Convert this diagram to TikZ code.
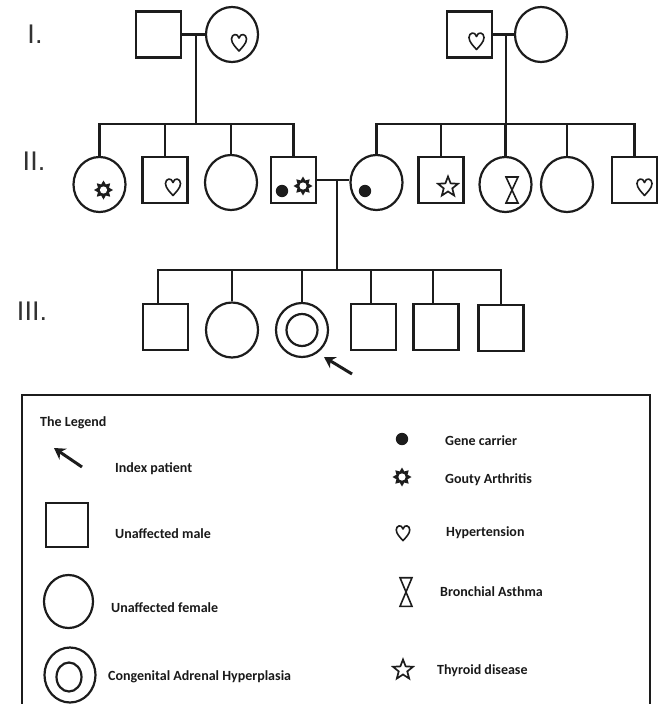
\documentclass[tikz,border=0pt]{standalone}
\usepackage{fontspec}
\setmainfont{Carlito}
\newfontfamily\labfont{Liberation Sans}
\usetikzlibrary{shapes.geometric,arrows.meta,calc}
\definecolor{inkc}{RGB}{28,28,28}
\definecolor{labc}{RGB}{50,50,50}
\definecolor{txtc}{RGB}{25,25,25}
\begin{document}
\begin{tikzpicture}[x=1pt,y=-1pt,
  ink/.style={draw=inkc, line width=2.2pt},
  male/.style={rectangle, draw=inkc, line width=2.2pt, minimum width=45pt, minimum height=46pt, inner sep=0pt},
  female/.style={ellipse, draw=inkc, line width=2.2pt, minimum width=52pt, minimum height=55pt, inner sep=0pt},
  gen/.style={font=\labfont\fontsize{27}{29}\selectfont, text=labc, inner sep=0pt},
  lg/.style={anchor=west, font=\bfseries\fontsize{14}{16}\selectfont, text=txtc, inner sep=0pt},
  heart/.pic={\draw[draw=inkc, line width=1.6pt, line join=round]
     (0,8.5) .. controls (-3,5) and (-7.5,1) .. (-7.5,-3.5) .. controls (-7.5,-8.5) and (-1.5,-10) .. (0,-4.5)
     .. controls (1.5,-10) and (7.5,-8.5) .. (7.5,-3.5) .. controls (7.5,1) and (3,5) .. (0,8.5) -- cycle;},
  gout/.pic={\fill[inkc] (0:9.5) -- (22.5:6) -- (45:9.5) -- (67.5:6) -- (90:9.5) -- (112.5:6) -- (135:9.5) -- (157.5:6)
     -- (180:9.5) -- (202.5:6) -- (225:9.5) -- (247.5:6) -- (270:9.5) -- (292.5:6) -- (315:9.5) -- (337.5:6) -- cycle;
     \fill[white] (0,0) circle (3.6);},
  hglass/.pic={\draw[draw=inkc, line width=1.6pt, line join=miter] (-6,-13) -- (6,-13) -- (-6,13) -- (6,13) -- cycle;},
  tstar/.pic={\draw[draw=inkc, line width=1.7pt, line join=miter] (-90:10.5) -- (-54:4.5) -- (-18:10.5) -- (18:4.5) -- (54:10.5)
     -- (90:4.5) -- (126:10.5) -- (162:4.5) -- (198:10.5) -- (234:4.5) -- cycle;},
  gdot/.pic={\fill[inkc] (0,0) circle (6.2);}
]
\useasboundingbox (0,0) rectangle (661,704);

% generation labels
\node[gen] (gI) at (35,34) {I.};
\node[gen] (gII) at (34,161) {II.};
\node[gen] (gIII) at (32,311) {III.};

% generation I
\node[male] (i1) at (158.5,34.5) {};
\node[female] (i2) at (232,34.5) {};
\node[male] (i3) at (469.5,34.5) {};
\node[female] (i4) at (541,34.5) {};
\draw[ink] (i1.east) -- (i2.west);
\draw[ink] (i3.east) -- (i4.west);
\coordinate (m1) at (196,34.5);
\coordinate (m2) at (506,34.5);
\coordinate (s1) at (196,124);
\coordinate (s2) at (506,124);
\draw[ink] (m1) -- (s1);
\draw[ink] (m2) -- (s2);
\pic at ($(i2)+(7,8)$) {heart};
\pic at ($(i3)+(7,6.5)$) {heart};

% generation II
\node[female] (ii1) at (99.5,184.5) {};
\node[male]   (ii2) at (165,180) {};
\node[female] (ii3) at (231,182.5) {};
\node[male]   (ii4) at (293.5,180) {};
\node[female] (ii5) at (376.5,182.5) {};
\node[male]   (ii6) at (441,180) {};
\node[female] (ii7) at (505.5,184.5) {};
\node[female] (ii8) at (567,184.5) {};
\node[male]   (ii9) at (634.5,180) {};
\draw[ink] (ii1.north) -- (ii1.north |- s1) -- (ii4.north |- s1) -- (ii4.north);
\draw[ink] (ii2.north) -- (ii2.north |- s1);
\draw[ink] (ii3.north) -- (ii3.north |- s1);
\draw[ink] (ii5.north) -- (ii5.north |- s2) -- (ii9.north |- s2) -- (ii9.north);
\draw[ink] (ii6.north) -- (ii6.north |- s2);
\draw[ink] (ii7.north) -- (ii7.north |- s2);
\draw[ink] (ii8.north) -- (ii8.north |- s2);
\pic at ($(ii1)+(4,5.5)$) {gout};
\pic at ($(ii2)+(8,7)$) {heart};
\pic at ($(ii4)+(-11.5,11)$) {gdot};
\pic at ($(ii4)+(9.5,6)$) {gout};
\pic at ($(ii5)+(-11.5,8.5)$) {gdot};
\pic at ($(ii6)+(7,7)$) {tstar};
\pic at ($(ii7)+(6.5,5.5)$) {hglass};
\pic at ($(ii9)+(10,7)$) {heart};

% marriage II and generation III
\draw[ink] (ii4.east) -- (ii4.east -| ii5.west);
\coordinate (m3) at (337,180);
\coordinate (s3) at (337,270);
\draw[ink] (m3) -- (s3);
\node[male]   (iii1) at (165.5,327) {};
\node[female] (iii2) at (232,330) {};
\node[female, minimum height=54pt] (iii3) at (302,330) {};
\node[female, minimum width=31pt, minimum height=32pt] (iii3in) at (302,330) {};
\node[male]   (iii4) at (373.5,327) {};
\node[male]   (iii5) at (436,327) {};
\node[male]   (iii6) at (501,328) {};
\draw[ink] ([xshift=-7.5pt]iii1.north) |- (iii6.north |- s3) -- (iii6.north);
\draw[ink] (iii2.north) -- (iii2.north |- s3);
\draw[ink] (iii3.north) -- (iii3.north |- s3);
\draw[ink] ([xshift=-2.5pt]iii4.north) -- ([xshift=-2.5pt]iii4.north |- s3);
\draw[ink] ([xshift=-3pt]iii5.north) -- ([xshift=-3pt]iii5.north |- s3);
\coordinate (atail) at (352,374);
\coordinate (ahead) at (324,357);
\draw[ink, line width=3pt, -{Stealth[length=11pt,width=13pt]}] (atail) -- (ahead);

% legend
\draw[ink, line width=2.4pt] (22,706) -- (22,395) -- (650,395) -- (650,706);
\node[lg] (lt) at (40,423) {The Legend};
\coordinate (ltail) at (82,467);
\coordinate (lhead) at (54,448);
\draw[ink, line width=3pt, -{Stealth[length=11pt,width=13pt]}] (ltail) -- (lhead);
\node[lg] (l1) at (115,469) {Index patient};
\node[male, minimum width=42pt, minimum height=44pt] (lm) at (67,525) {};
\node[lg] (l2) at (115,534) {Unaffected male};
\node[female, minimum width=49pt, minimum height=53pt] (lf) at (68.5,601.5) {};
\node[lg] (l3) at (111,608) {Unaffected female};
\node[female, minimum width=51pt, minimum height=55pt] (lc) at (70,675) {};
\node[female, minimum width=25pt, minimum height=29pt] (lcin) at (69,677) {};
\node[lg] (l4) at (108,677) {Congenital Adrenal Hyperplasia};

\pic at (402,439) {gdot};
\node[lg] (r1) at (445,441) {Gene carrier};
\pic at (402,477) {gout};
\node[lg] (r2) at (445,480) {Gouty Arthritis};
\pic[scale=0.9] at (403,533) {heart};
\node[lg] (r3) at (446,533) {Hypertension};
\pic[yscale=1.1] at (406,592) {hglass};
\node[lg] (r4) at (440,592) {Bronchial Asthma};
\pic at (403,670) {tstar};
\node[lg] (r5) at (437,671) {Thyroid disease};
\end{tikzpicture}
\end{document}
